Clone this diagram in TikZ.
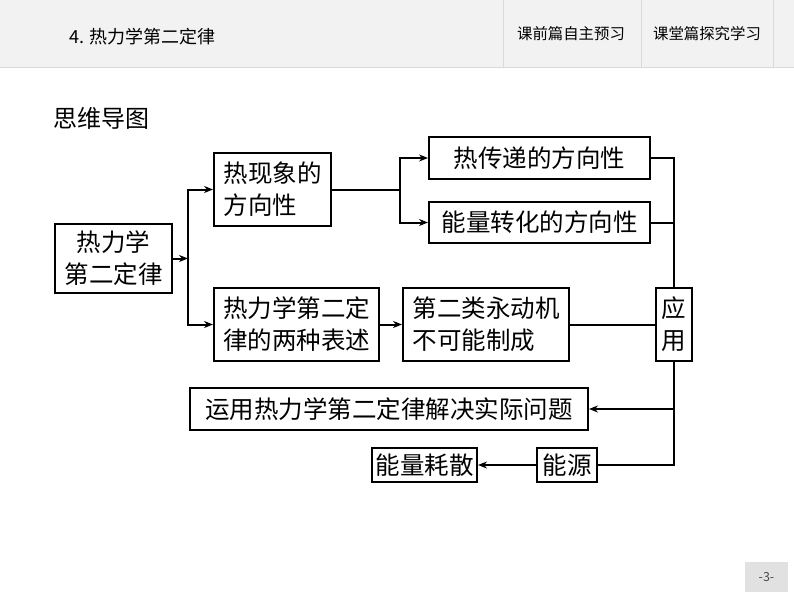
\documentclass[tikz,border=0pt]{standalone}
\usepackage{fontspec}
\usepackage{tikz}
\usetikzlibrary{arrows.meta}
\newfontfamily\cjk{Noto Sans CJK SC}
\definecolor{headgray}{HTML}{F2F2F2}
\definecolor{rulegray}{HTML}{DADADA}

\begin{document}
\begin{tikzpicture}[
  x=1pt, y=-1pt,
  box/.style={draw, line width=2pt, inner sep=0pt, align=center,
    font=\cjk\fontsize{24.5}{32}\selectfont},
  link/.style={line width=2pt},
  arr/.style={link, -{Stealth[length=9pt,width=7pt]}},
]
\useasboundingbox (0,0) rectangle (794,596);
% page header and footer
\fill[headgray] (0,0) rectangle (794,67);
\draw[rulegray] (0,67) -- (794,67);
\foreach \sx in {503,641,773}
  \draw[rulegray] (\sx,0) -- (\sx,67);
\node[anchor=west, font=\cjk\fontsize{18}{18}\selectfont] (title) at (66,37) {4. 热力学第二定律};
\node[font=\cjk\fontsize{15.4}{16}\selectfont] (tabA) at (571,34) {课前篇自主预习};
\node[font=\cjk\fontsize{15.4}{16}\selectfont] (tabB) at (707,34) {课堂篇探究学习};
\fill[headgray!85!gray] (745,562) rectangle (788,592);
\node[font=\cjk\fontsize{12.5}{12}\selectfont, text=black!70] (pg) at (766.5,577) {-3-};
\node[anchor=west, font=\cjk\fontsize{24}{24}\selectfont] (head) at (50,118) {思维导图};

% boxes
\node[box, minimum width=117pt, minimum height=69pt] (law) at (113.5,258.5) {热力学\\第二定律};
\node[box, minimum width=117pt, minimum height=73pt, align=left] (phen) at (272.5,189.5) {热现象的\\方向性};
\node[box, minimum width=165pt, minimum height=73pt] (two) at (296.5,324.5) {热力学第二定\\律的两种表述};
\node[box, minimum width=221pt, minimum height=42pt] (heat) at (539.5,158) {热传递的方向性};
\node[box, minimum width=221pt, minimum height=41pt] (energy) at (539.5,222.5) {能量转化的方向性};
\node[box, minimum width=166pt, minimum height=73pt, align=left] (perp) at (486,324.5) {第二类永动机\\不可能制成};
\node[box, minimum width=36pt, minimum height=73pt] (use) at (674,324.5) {应\\用};
\node[box, minimum width=398pt, minimum height=42pt] (solve) at (389,409) {运用热力学第二定律解决实际问题};
\node[box, minimum width=60pt, minimum height=34pt] (src) at (567,465) {能源};
\node[box, minimum width=105pt, minimum height=34pt] (diss) at (424.5,465) {能量耗散};

% connectors
\coordinate (s1) at (188,258.5);
\coordinate (s2) at (400,189.5);
\draw[arr] (law.east) -- (s1);
\draw[arr] (s1) |- (phen.west);
\draw[arr] (s1) |- (two.west);
\draw[link] (phen.east) -- (s2);
\draw[arr] (s2) |- (heat.west);
\draw[arr] (s2) |- (energy.west);
\draw[arr] (two.east) -- (perp.west);
\draw[link] (perp.east) -- (use.west);
\draw[link] (heat.east) -| (use.north);
\draw[link] (energy.east) -- (energy.east -| use.north);
\draw[link] (use.south) |- (src.east);
\draw[arr] (solve.east -| use.south) -- (solve.east);
\draw[arr] (src.west) -- (diss.east);
\end{tikzpicture}
\end{document}
